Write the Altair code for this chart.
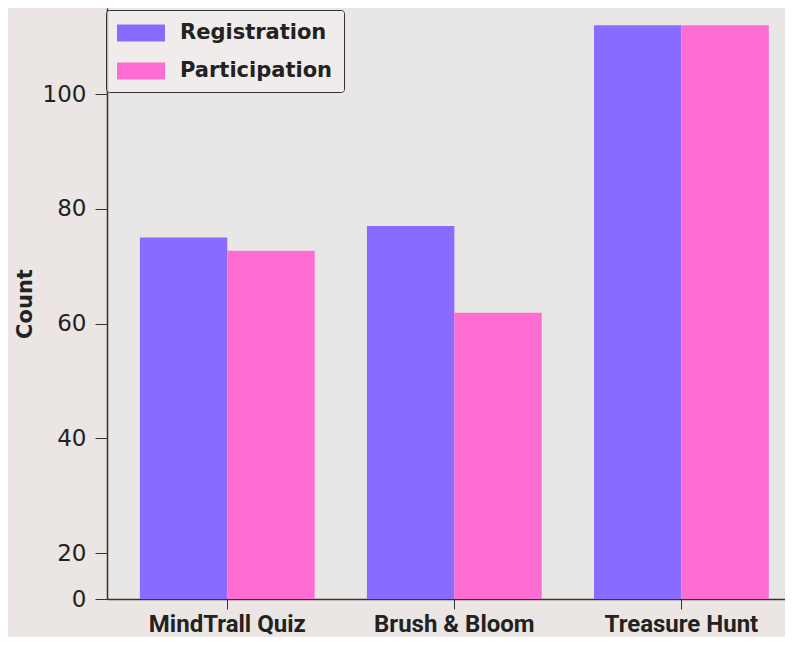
import altair as alt
import pandas as pd

events = ["MindTrall Quiz", "Brush & Bloom", "Treasure Hunt"]
registration = [75, 77, 112]
participation = [72.7, 61.9, 112]
series = ["Registration", "Participation"]
colors = ["#8a6bff", "#ff6dd2"]

rows = []
for e, r, p in zip(events, registration, participation):
    rows.append({"Event": e, "Type": "Registration", "Count": r})
    rows.append({"Event": e, "Type": "Participation", "Count": p})
df = pd.DataFrame(rows)

rect_path = "M-2,-0.7L2,-0.7L2,0.7L-2,0.7Z"

chart = alt.Chart(df).mark_bar(clip=True).encode(
    x=alt.X("Event:N", sort=events,
            scale=alt.Scale(paddingInner=0.23, paddingOuter=0.108, align=0.67),
            axis=alt.Axis(title=None, labelAngle=0, labelFontSize=24, labelFont="Roboto",
                          labelFontWeight="bold", labelColor="#222222", labelPadding=3,
                          tickSize=10, tickColor="#333333", domainColor="#333333",
                          domainWidth=1.5)),
    xOffset=alt.XOffset("Type:N", sort=series),
    y=alt.Y("Count:Q",
            scale=alt.Scale(domain=[12, 115], nice=False, zero=False),
            axis=alt.Axis(title="Count", values=[12, 20, 40, 60, 80, 100],
                          labelExpr="datum.value == 12 ? '0' : datum.label",
                          labelFontSize=23, labelFont="DejaVu Sans", labelFontWeight="normal",
                          labelColor="#222222", tickSize=12, tickColor="#333333",
                          domainColor="#333333", domainWidth=1.5, grid=False,
                          labelPadding=9, titleFontSize=21, titleFont="DejaVu Sans",
                          titleFontWeight="bold", titleColor="#222222", titlePadding=7)),
    color=alt.Color("Type:N", sort=series,
                    scale=alt.Scale(domain=series, range=colors),
                    legend=alt.Legend(title=None, orient="none", legendX=-1, legendY=2,
                                      symbolType=rect_path, symbolSize=576,
                                      symbolOffset=12,
                                      symbolStrokeWidth=0, symbolOpacity=1,
                                      labelFontSize=21, labelFont="DejaVu Sans",
                                      labelFontWeight="bold", labelColor="#222222",
                                      labelOffset=27, rowPadding=16, padding=11,
                                      fillColor="rgba(242,238,236,0.7)", strokeColor="#333333",
                                      cornerRadius=3)),
).properties(
    width=678, height=591,
    padding={"left": 99, "top": 0, "right": 0, "bottom": 38},
    autosize=alt.AutoSizeParams(type="none"),
    background="#ebe6e4",
).configure_view(stroke=None, fill="#e9e7e6")

chart.save("out.html", embed_options={"renderer": "svg", "actions": False})
